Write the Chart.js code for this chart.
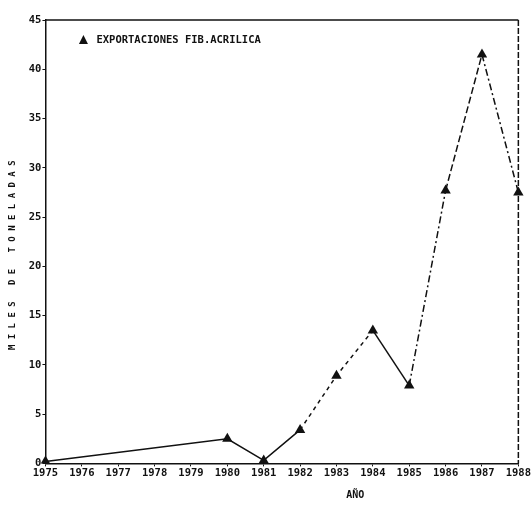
<!DOCTYPE html>
<html lang="es">
<head>
<meta charset="utf-8">
<script src="https://cdn.jsdelivr.net/npm/chart.js@4.4.1/dist/chart.umd.min.js"></script>
<style>
  html, body { margin: 0; padding: 0; background: #fff; }
  #wrap { width: 532px; height: 507px; }
</style>
</head>
<body>
<div id="wrap">
  <canvas id="fibra-chart"></canvas>
</div>
<script>
  // datos (miles de toneladas)
  const years = ['1975', '1976', '1977', '1978', '1979', '1980', '1981', '1982', '1983', '1984', '1985', '1986', '1987', '1988'];
  const exportaciones = [0.2, null, null, null, null, 2.5, 0.3, 3.4, 8.9, 13.5, 7.9, 27.7, 41.5, 27.5];
  const serieLabel = 'EXPORTACIONES FIB.ACRILICA';
  const yMax = 45;
  const yStep = 5;

  const ink = '#111';
  const monoFont = "'DejaVu Sans Mono', monospace";

  // estilo de trazo por tramo (como en el original impreso)
  function segDash(ctx) {
    const i = ctx.p0DataIndex;
    if (i === 7 || i === 8) return [4, 4];
    if (i === 10 || i === 12) return [7, 3, 2, 3];
    if (i === 11) return [7, 3];
    return undefined;
  }

  const framePlugin = {
    id: 'frame',
    afterDraw(chart) {
      const { ctx, chartArea: a } = chart;
      ctx.save();
      ctx.strokeStyle = ink;
      ctx.lineWidth = 1.5;
      ctx.beginPath();
      ctx.moveTo(a.left, a.top);
      ctx.lineTo(a.right, a.top);
      ctx.stroke();
      ctx.setLineDash([6, 2]);
      ctx.beginPath();
      ctx.moveTo(a.right, a.top);
      ctx.lineTo(a.right, a.bottom);
      ctx.stroke();
      ctx.restore();
    }
  };

  // leyenda dentro del area del grafico
  const legendPlugin = {
    id: 'legendInside',
    afterDraw(chart) {
      const { ctx, chartArea: a } = chart;
      const x = a.left + 38, y = a.top + 20;
      ctx.save();
      ctx.fillStyle = ink;
      ctx.beginPath();
      ctx.moveTo(x, y - 5);
      ctx.lineTo(x + 4.5, y + 4);
      ctx.lineTo(x - 4.5, y + 4);
      ctx.closePath();
      ctx.fill();
      ctx.font = 'bold 10.5px ' + monoFont;
      ctx.textBaseline = 'middle';
      ctx.fillText(chart.data.datasets[0].label, x + 13, y);
      ctx.restore();
    }
  };

  // titulo del eje x (desplazado a la derecha en el original)
  const xTitlePlugin = {
    id: 'xTitle',
    afterDraw(chart) {
      const { ctx, chartArea: a } = chart;
      ctx.save();
      ctx.fillStyle = ink;
      ctx.font = 'bold 10px ' + monoFont;
      ctx.textAlign = 'center';
      ctx.textBaseline = 'middle';
      ctx.fillText('AÑO', a.left + (a.right - a.left) * 0.655, 495);
      ctx.restore();
    }
  };

  const chartData = {
    labels: years,
    datasets: [{
      label: serieLabel,
      data: exportaciones,
      borderColor: ink,
      backgroundColor: ink,
      borderWidth: 1.5,
      pointStyle: 'triangle',
      pointRadius: 6,
      pointHoverRadius: 6,
      pointBorderWidth: 0,
      spanGaps: true,
      tension: 0,
      segment: { borderDash: segDash }
    }]
  };

  const config = {
    type: 'line',
    data: chartData,
    options: {
      responsive: true,
      maintainAspectRatio: false,
      animation: false,
      layout: { padding: { top: 20, right: 0, left: 0, bottom: 26 } },
      plugins: {
        legend: { display: false },
        tooltip: { enabled: false }
      },
      scales: {
        x: {
          grid: { display: true, drawOnChartArea: false, tickLength: 3, color: ink, lineWidth: 1 },
          border: { display: true, color: ink, width: 1.5 },
          ticks: {
            color: ink,
            font: { family: monoFont, size: 10.5, weight: 'bold' },
            padding: 1,
            maxRotation: 0,
            autoSkip: false
          }
        },
        y: {
          min: 0,
          max: yMax,
          grid: { display: true, drawOnChartArea: false, tickLength: 3, color: ink, lineWidth: 1 },
          border: { display: true, color: ink, width: 1.5 },
          ticks: {
            stepSize: yStep,
            color: ink,
            font: { family: monoFont, size: 10.5, weight: 'bold' },
            padding: 1
          },
          title: {
            display: true,
            text: 'M I L E S   D E   T O N E L A D A S     ',
            color: ink,
            font: { family: monoFont, size: 9, weight: 'bold' },
            padding: { top: 7, bottom: 10 }
          }
        }
      }
    },
    plugins: [framePlugin, legendPlugin, xTitlePlugin]
  };

  new Chart(document.getElementById('fibra-chart').getContext('2d'), config);
</script>
</body>
</html>
